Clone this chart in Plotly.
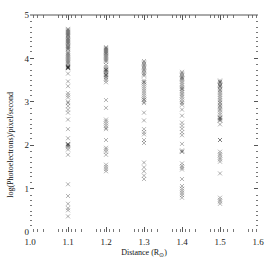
import plotly.graph_objects as go

distances = [1.1, 1.2, 1.3, 1.4, 1.5]

col_11 = [4.68, 4.66, 4.64, 4.62, 4.6, 4.58, 4.56, 4.54, 4.52, 4.5, 4.47, 4.45, 4.43, 4.41, 4.39,
          4.37, 4.35, 4.33, 4.3, 4.28, 4.26, 4.24, 4.22, 4.2, 4.15, 4.12, 4.1, 4.07, 4.05, 4.02,
          4.0, 3.97, 3.95, 3.92, 3.9, 3.87, 3.83, 3.82, 3.8, 3.8, 3.79, 3.78, 3.78, 3.77,
          3.65, 3.47, 3.36, 3.2, 3.15, 3.1, 3.0, 2.97, 2.9, 2.82, 2.75, 2.59, 2.37, 2.16,
          2.03, 2.02, 2.02, 2.0, 1.98, 1.95, 1.9, 1.78, 1.1, 0.83, 0.65, 0.55, 0.5, 0.36]
col_12 = [4.26, 4.24, 4.22, 4.2, 4.18, 4.16, 4.14, 4.12, 4.1, 4.07, 4.05, 4.02, 4.0, 3.97, 3.95,
          3.92, 3.85, 3.8, 3.76, 3.74, 3.74, 3.72, 3.7, 3.68, 3.65, 3.62, 3.62, 3.6, 3.57, 3.54,
          3.5, 3.45, 3.04, 2.86, 2.59, 2.55, 2.5, 2.45, 2.4, 2.37, 2.12, 1.94, 1.9, 1.85, 1.78,
          1.55, 1.5, 1.45, 1.4]
col_13 = [3.94, 3.91, 3.88, 3.85, 3.82, 3.79, 3.76, 3.73, 3.7, 3.66, 3.63, 3.6, 3.49, 3.45,
          3.45, 3.4, 3.35, 3.3, 3.25, 3.2, 3.15, 3.1, 3.05, 3.05, 3.0, 2.97, 2.75, 2.57, 2.37,
          2.3, 2.25, 2.12, 2.05, 1.6, 1.49, 1.4, 1.3, 1.22]
col_14 = [3.69, 3.66, 3.63, 3.6, 3.57, 3.54, 3.54, 3.5, 3.46, 3.42, 3.38, 3.34, 3.3, 3.3, 3.26,
          3.22, 3.18, 3.14, 3.1, 3.05, 3.0, 2.97, 2.93, 2.82, 2.68, 2.52, 2.45, 2.38, 2.3,
          2.23, 2.03, 1.88, 1.85, 1.85, 1.58, 1.52, 1.48, 1.44, 1.22, 1.06, 1.0, 0.95, 0.9,
          0.85, 0.79]
col_15 = [3.49, 3.46, 3.46, 3.43, 3.4, 3.37, 3.37, 3.34, 3.3, 3.27, 3.24, 3.2, 3.16, 3.12,
          3.08, 3.04, 3.0, 2.97, 2.93, 2.9, 2.87, 2.83, 2.8, 2.75, 2.7, 2.64, 2.64, 2.62, 2.6,
          2.57, 2.57, 2.48, 2.12, 2.12, 1.85, 1.8, 1.76, 1.71, 1.67, 1.62, 1.35, 0.79, 0.74,
          0.7, 0.65]

columns = [col_11, col_12, col_13, col_14, col_15]

x_ticks = [1.0, 1.1, 1.2, 1.3, 1.4, 1.5, 1.6]
x_ticklabels = ["1.0", "1.1", "1.2", "1.3", "1.4", "1.5", "1.6"]
y_ticks = [0, 1, 2, 3, 4, 5]
y_ticklabels = ["0", "1", "2", "3", "4", "5"]

x_minor_offsets = [0.01, 0.02, 0.035, 0.075, 0.085, 0.095]
y_minor_offsets = [0.15, 0.27, 0.38, 0.48, 0.6, 0.72, 0.85]

xs, ys = [], []
for d, vals in zip(distances, columns):
    for v in vals:
        xs.append(d)
        ys.append(v)

fig = go.Figure()
fig.add_trace(go.Scatter(
    x=xs, y=ys, mode="markers",
    marker=dict(symbol="x-thin-open", size=4, color="rgba(0,0,0,0.3)",
                line=dict(width=1, color="rgba(0,0,0,0.3)")),
    hoverinfo="skip", showlegend=False,
))

x_minor = [round(t + o, 4) for t in x_ticks[:-1] for o in x_minor_offsets]
y_minor = [round(t + o, 4) for t in y_ticks[:-1] for o in y_minor_offsets]

serif = "Liberation Serif"

fig.update_layout(
    width=274, height=266,
    margin=dict(l=30, r=10, t=10, b=34),
    paper_bgcolor="white", plot_bgcolor="white",
    font=dict(family=serif, size=9, color="#111"),
    xaxis=dict(
        range=[1.0, 1.6], tickvals=x_ticks, ticktext=x_ticklabels,
        ticks="inside", ticklen=5, tickwidth=1, tickcolor="#555",
        mirror="ticks", showline=False, showgrid=False, zeroline=False,
        ticklabeloverflow="allow", ticklabelstandoff=3,
        minor=dict(tickvals=x_minor, ticks="inside", ticklen=3, tickcolor="#777", showgrid=False),
        title=dict(text="Distance (R<sub>⊙</sub>)", font=dict(family=serif, size=8, color="#111"), standoff=3),
        tickfont=dict(family=serif, size=9, color="#222"),
    ),
    yaxis=dict(
        range=[0, 5], tickvals=y_ticks, ticktext=y_ticklabels,
        ticks="inside", ticklen=4, tickwidth=1, tickcolor="#555",
        mirror="ticks", showline=False, showgrid=False, zeroline=False,
        minor=dict(tickvals=y_minor, ticks="inside", ticklen=2, tickcolor="#777", showgrid=False),
        tickfont=dict(family=serif, size=9, color="#222"),
    ),
    annotations=[dict(text="log(Photoelectrons)/pixel/second", xref="paper", yref="paper",
                      x=-0.085, y=0.40, xanchor="center", yanchor="middle", textangle=-90,
                      showarrow=False, font=dict(family=serif, size=8, color="#111"))],
    shapes=[dict(type="line", xref="paper", yref="paper", x0=0, x1=1, y0=1, y1=1,
                 line=dict(color="#555", width=1))],
)

fig.write_html("out.html", config={"displayModeBar": False},
               post_script="document.body.style.margin='0';document.body.style.overflow='hidden';")
